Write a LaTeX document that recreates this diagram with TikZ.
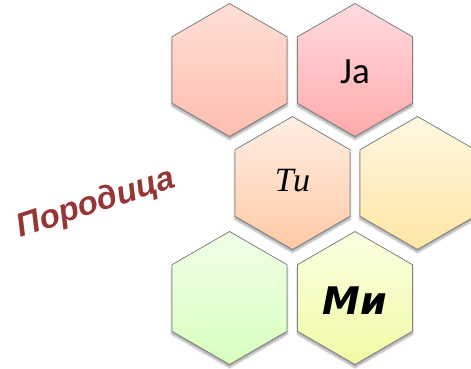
\documentclass[tikz,border=0pt]{standalone}
\usepackage{fontspec}
\setmainfont{Carlito}
\newfontfamily\scriptfam{Liberation Serif}
\newfontfamily\brushfam{DejaVu Sans}
\newfontfamily\handfam{Liberation Sans}
\usetikzlibrary{shapes.geometric,shadows.blur}
\definecolor{HexLine}{HTML}{7F7F7F}
\definecolor{FamilyRed}{HTML}{953735}
\tikzset{
  hexcell/.style={regular polygon, regular polygon sides=6, shape border rotate=30,
    minimum size=133pt, inner sep=0pt, draw=HexLine, line width=0.8pt,
    blur shadow={shadow xshift=0pt, shadow yshift=-3pt, shadow blur steps=6, shadow opacity=35}},
  hexlab/.style={text=black},
}
\begin{document}
\begin{tikzpicture}[x=1pt,y=1pt]
  \useasboundingbox (0,0) rectangle (471,369);
  \clip (0,0) rectangle (471,369);
  % top row
  \node[hexcell, top color={rgb,255:red,255;green,222;blue,214}, bottom color={rgb,255:red,255;green,190;blue,175}] (rodA) at (229.5,299) {};
  \node[hexcell, top color={rgb,255:red,255;green,218;blue,222}, bottom color={rgb,255:red,255;green,170;blue,172}] (ja) at (355,299) {};
  % middle row
  \node[hexcell, top color={rgb,255:red,255;green,238;blue,228}, bottom color={rgb,255:red,255;green,202;blue,165}] (ti) at (292.5,186) {};
  \node[hexcell, top color={rgb,255:red,255;green,247;blue,225}, bottom color={rgb,255:red,255;green,230;blue,165}] (rodB) at (417.5,186) {};
  % bottom row
  \node[hexcell, top color={rgb,255:red,240;green,255;blue,232}, bottom color={rgb,255:red,216;green,255;blue,190}] (rodC) at (229.5,71) {};
  \node[hexcell, top color={rgb,255:red,252;green,255;blue,225}, bottom color={rgb,255:red,240;green,250;blue,165}] (mi) at (355,71) {};
  % labels
  \node[hexlab, font=\fontsize{37}{40}\selectfont] at ([yshift=-2pt]ja) {Ja};
  \node[hexlab, font=\scriptfam\itshape\fontsize{34}{38}\selectfont] at ([yshift=2pt]ti) {Ти};
  \node[hexlab, font=\brushfam\bfseries\itshape\fontsize{38}{42}\selectfont] at ([yshift=-3pt]mi) {Ми};
  \node[text=FamilyRed, rotate=18, font=\handfam\bfseries\itshape\fontsize{33}{36}\selectfont] (family) at (96,165) {Породица};
\end{tikzpicture}
\end{document}
